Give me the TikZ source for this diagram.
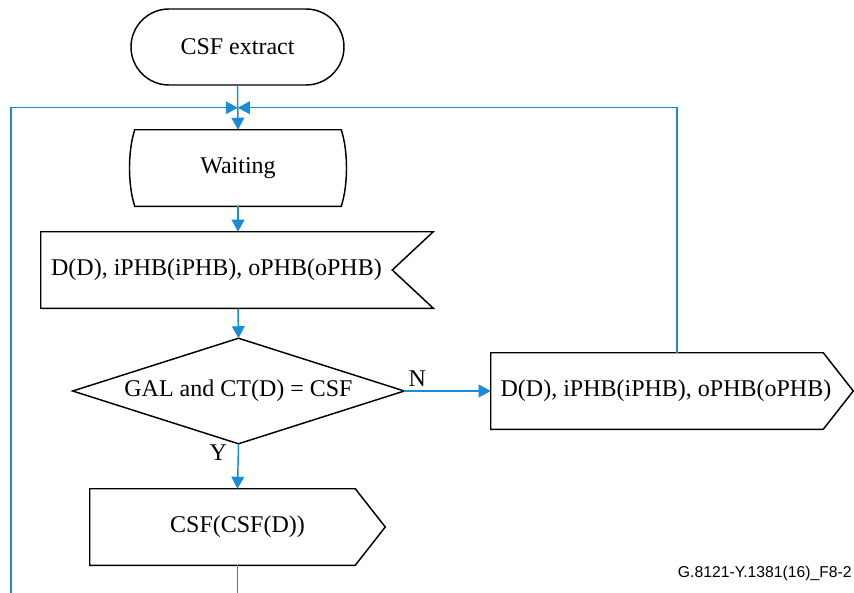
\documentclass[tikz,border=0pt]{standalone}
\usepackage{fontspec}
\setmainfont{Liberation Serif}
\newfontfamily\capfont{Liberation Sans}
\usetikzlibrary{arrows.meta,shapes.misc,calc}
\definecolor{flowblue}{RGB}{25,140,215}
\begin{document}
\begin{tikzpicture}[x=0.75pt,y=-0.75pt,
  box/.style={draw=none, inner sep=0pt, font=\fontsize{18}{20}\selectfont},
  outline/.style={draw=black, line width=1.1pt, line join=miter},
  flow/.style={draw=flowblue, line width=1.1pt, -{Triangle[length=9pt,width=9.5pt]}},
  link/.style={draw=flowblue, line width=1.1pt},
  lbl/.style={font=\fontsize{18}{20}\selectfont, inner sep=0pt}]
\useasboundingbox (0,0) rectangle (854,593);

% terminal
\node[box, rounded rectangle, draw=black, line width=1.1pt,
      minimum width=159.75pt, minimum height=57pt] (start) at (237.5,47) {CSF extract};

% state
\node[box, minimum width=154.5pt, minimum height=57pt] (wait) at (238,168) {Waiting};
\draw[outline] (wait.north west)
  .. controls ($(wait.north west)+(-7,22)$) and ($(wait.south west)+(-7,-22)$) .. (wait.south west)
  -- (wait.south east)
  .. controls ($(wait.south east)+(7,-22)$) and ($(wait.north east)+(7,22)$) .. (wait.north east)
  -- cycle;

% input signal
\node[box, minimum width=263.25pt, minimum height=57pt] (inp) at (216.5,270) {D(D), iPHB(iPHB), oPHB(oPHB)};
\draw[outline] (inp.north west) -- ($(inp.north east)+(41,0)$) -- (inp.east)
  -- ($(inp.south east)+(41,0)$) -- (inp.south west) -- cycle;

% decision
\node[box, minimum width=248.25pt, minimum height=78.75pt] (dec) at (238.5,391) {GAL and CT(D) = CSF};
\draw[outline] (dec.west) -- (dec.north) -- (dec.east) -- (dec.south) -- cycle;

% output signal (N branch)
\node[box, minimum width=262.5pt, minimum height=57pt] (out) at (666,391) {D(D), iPHB(iPHB), oPHB(oPHB)};
\draw[outline] (out.north west) -- ($(out.north east)+(-18,0)$) -- ($(out.east)+(12,0)$)
  -- ($(out.south east)+(-18,0)$) -- (out.south west) -- cycle;

% output signal (Y branch)
\node[box, minimum width=221.25pt, minimum height=57pt] (csf) at (237.5,527) {CSF(CSF(D))};
\draw[outline] (csf.north west) -- ($(csf.north east)+(-30,0)$) -- (csf.east)
  -- ($(csf.south east)+(-30,0)$) -- (csf.south west) -- cycle;

% junction and free ends
\coordinate (join) at ($(start.south)!.5!(wait.north)$);
\coordinate (loopL) at (11,596);
\coordinate (exit) at ($(csf.south)+(0,31)$);

% connectors
\draw[flow] (start.south) -- (wait.north);
\draw[flow] (wait.south) -- (wait.south |- inp.north);
\draw[flow] (wait.south |- inp.south) -- (dec.north);
\draw[flow] (dec.east) -- (out.west) node[lbl, above=3pt, pos=0.15] {N};
\draw[flow] (dec.south) -- (csf.north) node[lbl, left=8pt, pos=0.2] {Y};
\draw[link] (csf.south) -- (exit);
\draw[flow] ($(out.north)+(11,0)$) |- (join);
\draw[flow] (loopL) |- (join);

% figure tag
\node[font=\capfont\fontsize{11.8}{13}\selectfont, anchor=east, inner sep=0pt] (tag) at (852,573) {G.8121-Y.1381(16)\_F8-2};
\end{tikzpicture}
\end{document}
